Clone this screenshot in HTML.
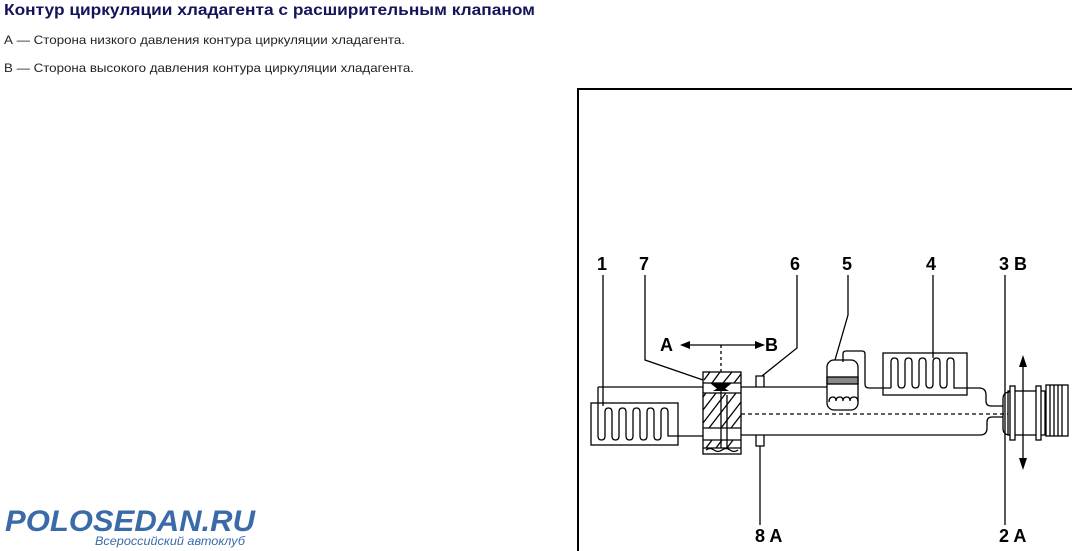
<!DOCTYPE html>
<html><head><meta charset="utf-8"><style>
html,body{margin:0;padding:0;background:#fff;width:1072px;height:551px;overflow:hidden}
svg{display:block}
text{font-family:"Liberation Sans",Arial,sans-serif}
</style></head><body>
<svg width="1072" height="551" viewBox="0 0 1072 551" xmlns="http://www.w3.org/2000/svg">
<text x="4" y="15" font-size="16" font-weight="bold" fill="#14145a" textLength="531" lengthAdjust="spacingAndGlyphs">Контур циркуляции хладагента с расширительным клапаном</text>
<text x="4" y="44" font-size="12" fill="#222" textLength="401" lengthAdjust="spacingAndGlyphs">А — Сторона низкого давления контура циркуляции хладагента.</text>
<text x="4" y="72" font-size="12" fill="#222" textLength="410" lengthAdjust="spacingAndGlyphs">В — Сторона высокого давления контура циркуляции хладагента.</text>

<text x="5" y="531" font-size="30" font-weight="bold" font-style="italic" fill="#3a6aa8" textLength="250" lengthAdjust="spacingAndGlyphs">POLOSEDAN.RU</text>
<text x="95" y="545" font-size="12" font-style="italic" fill="#3a6aa8" textLength="150" lengthAdjust="spacingAndGlyphs">Всероссийский автоклуб</text>

<path d="M578 551 V89 H1072" fill="none" stroke="#000" stroke-width="2"/>

<g stroke="#000" stroke-width="1.3" fill="none">
<!-- evaporator 1 -->
<rect x="591" y="403" width="87" height="42"/>
<path d="M598 387 H703"/>
<path d="M598 387 V436 q0 4 3.5 4 q3.5 0 3.5 -4 V412 q0 -4 3.5 -4 q3.5 0 3.5 4 V436 q0 4 3.5 4 q3.5 0 3.5 -4 V412 q0 -4 3.5 -4 q3.5 0 3.5 4 V436 q0 4 3.5 4 q3.5 0 3.5 -4 V412 q0 -4 3.5 -4 q3.5 0 3.5 4 V436 q0 4 3.5 4 q3.5 0 3.5 -4 V412 q0 -4 3.5 -4 q3.5 0 3.5 4 V436 q0 4 3.5 4 q3.5 0 3.5 -4 V412 q0 -4 3.5 -4 q3.5 0 3.5 4 V436 H703"/>
<!-- block 7 -->
<rect x="703" y="372" width="38" height="82"/>
<path d="M703 383 H741 M703 393 H741 M703 428 H741 M703 440 H741 M703 448 H741"/>
<path d="M706 393 L703 397 M716 393 L703 410 M726 393 L703 423 M736 393 L709 428 M741 402 L721 428 M741 415 L731 428 M710 372 L704 380 M720 372 L712 383 M732 372 L723 383 M741 374 L734 383 M712 440 L706 448 M722 440 L716 448 M733 440 L727 448"/>
<path d="M706 450 q4 -3 8 0 q4 3 8 0 q4 -3 8 0 q4 3 8 0"/>
<path d="M721 345 V372" stroke-dasharray="3 3"/>
<path d="M721 392 V448 M727 395 V448"/>
<!-- main pipe -->
<path d="M741 387 H827"/>
<path d="M741 435 H980 q7 0 7 -7 V422 q0 -5 5 -5 H1003"/>
<path d="M741 414 H1008" stroke-dasharray="4 3"/>
<path d="M756 387 V376 H764 V387 M756 435 V446 H764 V435"/>
<!-- receiver 5 -->
<rect x="827" y="360" width="31" height="50" rx="7"/>
<rect x="827" y="377" width="31" height="7" fill="#888"/>
<path d="M829 402 q0 -5 4 -5 q3 0 3 4 q0 -4 4 -4 q3 0 3 4 q0 -4 4 -4 q3 0 3 4 q0 -4 4 -4 q4 0 4 5"/>
<path d="M843 362 V354 q0 -3 3 -3 H862 q3 0 3 3 V384 q0 4 4 4 H891"/>
<!-- condenser 4 -->
<rect x="883" y="353" width="84" height="42"/>
<path d="M891 388 V362 q0 -4 3.5 -4 q3.5 0 3.5 4 V384 q0 4 3.5 4 q3.5 0 3.5 -4 V362 q0 -4 3.5 -4 q3.5 0 3.5 4 V384 q0 4 3.5 4 q3.5 0 3.5 -4 V362 q0 -4 3.5 -4 q3.5 0 3.5 4 V384 q0 4 3.5 4 q3.5 0 3.5 -4 V362 q0 -4 3.5 -4 q3.5 0 3.5 4 V384 q0 4 3.5 4 q3.5 0 3.5 -4 V362 q0 -4 3.5 -4 q3.5 0 3.5 4 V388 H979 q7 0 7 7 V401 q0 5 5 5 H1003"/>
<!-- compressor -->
<path d="M1010 392 q-7 0 -7 7 V428 q0 7 7 7"/>
<rect x="1008" y="391" width="37" height="44"/>
<rect x="1010" y="386" width="5" height="54" fill="#fff"/>
<rect x="1036" y="386" width="5" height="54" fill="#fff"/>
<rect x="1046" y="385" width="22" height="51"/>
<path d="M1050 385 V436 M1054 385 V436 M1058 385 V436 M1062 385 V436"/>
<!-- leaders -->
<path d="M603 275 V406"/>
<path d="M645 275 V360 L703 380"/>
<path d="M797 275 V348 L762 376"/>
<path d="M848 275 V315 L835 360"/>
<path d="M933 275 V358"/>
<path d="M1005 275 V525"/>
<path d="M760 446 V525"/>
<path d="M685 345 H760"/>
<path d="M1023 360 V465"/>
</g>
<g fill="#000">
<path d="M680 345 L690 341 L690 349 Z"/>
<path d="M765 345 L755 341 L755 349 Z"/>
<path d="M1023 355 L1019 367 L1027 367 Z"/>
<path d="M1023 470 L1019 458 L1027 458 Z"/>
<path d="M710 383 L732 383 L721 392 Z"/>
<path d="M713 391 L729 391 L721 386 Z"/>
</g>
<g font-size="18" font-weight="bold" fill="#000">
<text x="597" y="270">1</text>
<text x="639" y="270">7</text>
<text x="790" y="270">6</text>
<text x="842" y="270">5</text>
<text x="926" y="270">4</text>
<text x="999" y="270">3 B</text>
<text x="660" y="351">A</text>
<text x="765" y="351">B</text>
<text x="755" y="542">8 A</text>
<text x="999" y="542">2 A</text>
</g>
</svg>
</body></html>
